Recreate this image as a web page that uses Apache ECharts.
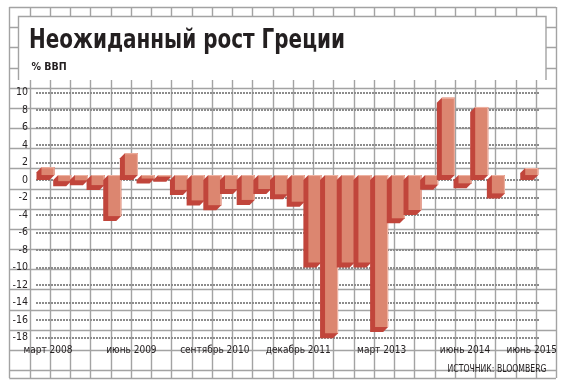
<!DOCTYPE html>
<html><head><meta charset="utf-8">
<script src="https://cdn.jsdelivr.net/npm/echarts@6/dist/echarts.min.js"></script>
<style>html,body{margin:0;padding:0;background:#fff}#c{width:565px;height:389px}</style>
</head><body><div id="c"></div>
<script>
// ---- data ----
const categories = [
  'март 2008','июнь 2008','сентябрь 2008','декабрь 2008',
  'март 2009','июнь 2009','сентябрь 2009','декабрь 2009',
  'март 2010','июнь 2010','сентябрь 2010','декабрь 2010',
  'март 2011','июнь 2011','сентябрь 2011','декабрь 2011',
  'март 2012','июнь 2012','сентябрь 2012','декабрь 2012',
  'март 2013','июнь 2013','сентябрь 2013','декабрь 2013',
  'март 2014','июнь 2014','сентябрь 2014','декабрь 2014',
  'март 2015','июнь 2015'
];
const gdpChange = [
  0.9, -0.7, -0.6, -1.15, -4.7, 2.5, -0.4, -0.2, -1.7, -2.9,
  -3.45, -1.6, -2.85, -1.6, -2.2, -3.05, -10.0, -18.1, -10.0, -10.0,
  -17.4, -4.95, -4.0, -1.1, 8.85, -0.95, 7.8, -2.1, 0, 0.8
];
const tickLabels = ['март 2008','июнь 2009','сентябрь 2010','декабрь 2011','март 2013','июнь 2014','июнь 2015'];
const yTicks = { min: -18, max: 10, step: 2 };
const titleText = 'Неожиданный рост Греции';
const unitText = '% ВВП';
const sourceText = 'ИСТОЧНИК: BLOOMBERG';

// ---- styling ----
const FONT = "'DejaVu Sans Condensed','DejaVu Sans',sans-serif";
const INK = '#231f20';
const PAPER = '#a3a3a3';
const FRONT = '#dc8670';
const SIDE = '#c1453b';
const EDGE = '#efb5a5';

const bg = [];
const gx0 = 9.3, gdx = 20.25, gy0 = 7, gdy = 20.17, gRight = 556, gBottom = 378;
for (let k = 0; k <= 27; k++) {
  const x = Math.round(gx0 + gdx * k) + 0.5;
  bg.push({ type: 'line', silent: true, z: 0, shape: { x1: x, y1: gy0, x2: x, y2: gBottom }, style: { stroke: PAPER, lineWidth: 1.4 } });
}
for (let k = 0; k <= 18; k++) {
  const y = Math.round(gy0 + gdy * k) + 0.5;
  bg.push({ type: 'line', silent: true, z: 0, shape: { x1: gx0, y1: y, x2: gRight, y2: y }, style: { stroke: PAPER, lineWidth: 1.4 } });
}
bg.push({ type: 'line', silent: true, z: 0, shape: { x1: gx0, y1: gBottom + 0.5, x2: gRight, y2: gBottom + 0.5 }, style: { stroke: PAPER, lineWidth: 1.4 } });
// title box
bg.push({ type: 'rect', silent: true, z: 1, shape: { x: 18.5, y: 16.5, width: 527.5, height: 63.5 }, style: { fill: '#fff' } });
bg.push({ type: 'polyline', silent: true, z: 1, shape: { points: [[18.5, 80], [18.5, 16.5], [546, 16.5], [546, 80]] }, style: { stroke: PAPER, lineWidth: 1.4, fill: null } });
bg.push({ type: 'text', silent: true, z: 2, x: 29, y: 40.5, scaleX: 0.74, originX: 0, originY: 0,
  style: { text: titleText, font: "bold 27px 'DejaVu Sans'", fill: INK, align: 'left', verticalAlign: 'middle' } });
bg.push({ type: 'text', silent: true, z: 2, x: 31.5, y: 67, scaleX: 0.95,
  style: { text: unitText, font: "bold 10px 'DejaVu Sans'", fill: INK, align: 'left', verticalAlign: 'middle' } });
bg.push({ type: 'text', silent: true, z: 2, x: 546.5, y: 369.5, scaleX: 0.78,
  style: { text: sourceText, font: "11px " + FONT, fill: INK, align: 'right', verticalAlign: 'middle' } });

function renderBar(params, api) {
  const i = api.value(0), v = api.value(1);
  if (!v) return null;
  const p0 = api.coord([i, 0]), p1 = api.coord([i, v]);
  const w = 13, d = 5, lift = 5;
  const x0 = p0[0] - w / 2, x1 = p0[0] + w / 2;
  const yT = Math.min(p0[1], p1[1]) - lift, yB = Math.max(p0[1], p1[1]) - lift;
  return { type: 'group', children: [
    { type: 'polygon', shape: { points: [[x0, yT], [x1, yT], [x1, yB], [x1 - d, yB + d], [x0 - d, yB + d], [x0 - d, yT + d]] }, style: { fill: SIDE } },
    { type: 'rect', shape: { x: x0, y: yT, width: w, height: yB - yT }, style: { fill: FRONT } },
    { type: 'polyline', shape: { points: [[x0, yT + 0.5], [x1 - 0.5, yT + 0.5], [x1 - 0.5, yB]] }, style: { stroke: EDGE, lineWidth: 1, fill: null } }
  ] };
}

const chart = echarts.init(document.getElementById('c'), null, { renderer: 'canvas' });
chart.setOption({
  animation: false,
  backgroundColor: '#fff',
  graphic: { elements: bg },
  grid: [
    { left: 39.66, top: 92.7, width: 500.4, height: 244.6 },
    { left: 36, top: 92.7, width: 504, height: 244.6 }
  ],
  xAxis: [
    { type: 'category', gridIndex: 0, data: categories, boundaryGap: true,
      axisLine: { show: false }, axisTick: { show: false }, splitLine: { show: false },
      axisLabel: { interval: 0, margin: 8, fontFamily: FONT, fontSize: 10, color: INK,
        formatter: v => tickLabels.includes(v) ? v : '' } },
    { type: 'value', gridIndex: 1, show: false, min: 0, max: 1 }
  ],
  yAxis: [
    { type: 'value', gridIndex: 0, min: yTicks.min, max: yTicks.max, interval: yTicks.step, show: false },
    { type: 'value', gridIndex: 1, min: yTicks.min, max: yTicks.max, interval: yTicks.step, z: 3,
      axisLine: { show: false }, axisTick: { show: false },
      axisLabel: { margin: 8, fontFamily: FONT, fontSize: 10.5, color: INK },
      splitLine: { show: true, lineStyle: { color: '#8c8c8c', width: 2, type: [2, 1] } } }
  ],
  series: [
    { type: 'custom', xAxisIndex: 0, yAxisIndex: 0, z: 10, renderItem: renderBar,
      data: gdpChange.map((v, i) => [i, v]) }
  ]
});
</script>
</body></html>
